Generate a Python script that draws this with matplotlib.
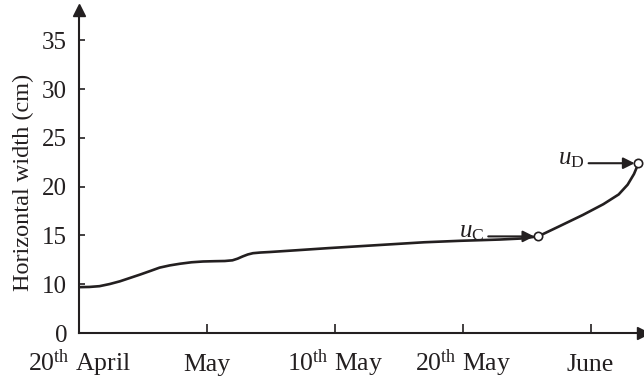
import numpy as np
from matplotlib import pyplot as plt

plt.rcParams['font.family'] = ['Liberation Serif', 'DejaVu Serif']
plt.rcParams['mathtext.fontset'] = 'custom'
plt.rcParams['mathtext.rm'] = 'Liberation Serif'
plt.rcParams['mathtext.it'] = 'Liberation Serif:italic'

INK = '#231f20'

# x in tick units (one unit per labelled date), y in cm
days = [0.0, 0.08, 0.16, 0.24, 0.32, 0.40, 0.48, 0.56, 0.63, 0.71, 0.79, 0.88,
        0.97, 1.06, 1.14, 1.20, 1.24, 1.28, 1.32, 1.36, 1.42, 1.49, 1.70, 1.95,
        2.20, 2.45, 2.70, 2.98, 3.15, 3.29, 3.45, 3.59, 3.75, 3.94, 4.10, 4.22,
        4.29, 4.34, 4.375]
width = [9.7, 9.72, 9.8, 10.02, 10.3, 10.65, 11.0, 11.37, 11.7, 11.93, 12.1, 12.25,
         12.33, 12.36, 12.38, 12.45, 12.62, 12.85, 13.05, 13.18, 13.25, 13.3, 13.48, 13.7,
         13.9, 14.1, 14.3, 14.45, 14.52, 14.58, 14.68, 14.9, 15.9, 17.1, 18.2, 19.2,
         20.2, 21.3, 22.4]

x_ticks = [0, 1, 2, 3, 4]
x_labels = ['20$^{\\rm th}$ April', 'May', '10$^{\\rm th}$ May', '20$^{\\rm th}$ May', 'June']
y_ticks = [5, 10, 15, 20, 25, 30, 35]
y_labels = ['0', '10', '15', '20', '25', '30', '35']

points = {'C': 31, 'D': 38}  # index of the marked points in the series

fig = plt.figure(figsize=(6.44, 3.78), dpi=100)
ax = fig.add_axes([0.1227, 0.119, 0.8757, 0.8545])

ax.plot(days, width, color=INK, lw=1.9, solid_joinstyle='round', solid_capstyle='round', zorder=3)
for name, i in points.items():
    ax.plot(days[i], width[i], 'o', ms=6, mfc='white', mec=INK, mew=1.2, zorder=4)
    ax.annotate('', xy=(days[i] - 0.03, width[i]), xytext=(days[i] - 0.39, width[i]),
                arrowprops=dict(arrowstyle='-|>', color=INK, lw=1.5, mutation_scale=17,
                                shrinkA=0, shrinkB=0))
    ax.text(days[i] - 0.42, width[i] - 0.1, '$u_{\\rm %s}$' % name, fontsize=18,
            ha='right', va='baseline', color=INK)

ax.set_xlim(0, 4.41)
ax.set_ylim(5, 38.1)
ax.set_xticks(x_ticks)
ax.set_xticklabels(x_labels, va='baseline')
ax.set_yticks(y_ticks)
ax.set_yticklabels(y_labels)
ax.tick_params(axis='x', direction='in', length=6.5, width=1.2, colors=INK, labelsize=18.5, pad=27)
ax.tick_params(axis='y', direction='in', length=4, width=1.2, colors=INK, labelsize=18, pad=8.5)
ax.set_ylabel('Horizontal width (cm)', fontsize=17.5, color=INK)
ax.yaxis.set_label_coords(-0.079, 0.465)

for s in ['top', 'right']:
    ax.spines[s].set_visible(False)
for s in ['left', 'bottom']:
    ax.spines[s].set_linewidth(1.5)
    ax.spines[s].set_color(INK)

ax.plot(1, 0, '>', color=INK, ms=8, transform=ax.transAxes, clip_on=False)
ax.plot(0, 1, '^', color=INK, ms=8, transform=ax.transAxes, clip_on=False)

fig.savefig('out.png', dpi=100)
